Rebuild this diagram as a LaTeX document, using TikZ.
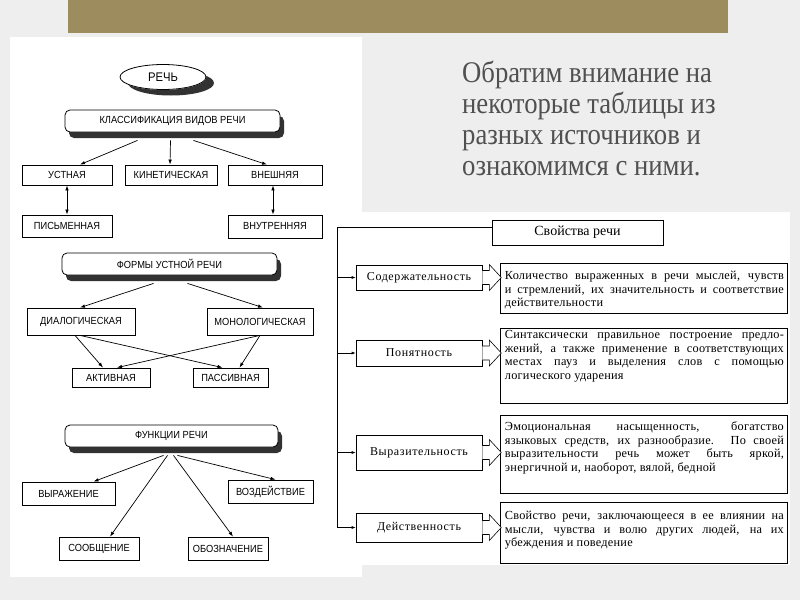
\documentclass[tikz,border=0pt]{standalone}
\usepackage{fontspec}
\setmainfont{Liberation Serif}
\newfontfamily\sansf[FakeStretch=0.9]{Liberation Sans}
\newfontfamily\descf[LetterSpace=2]{Liberation Serif}
\newfontfamily\rowf[LetterSpace=5]{Liberation Serif}
\newfontfamily\headf[FakeStretch=0.89]{Liberation Serif}
\usetikzlibrary{arrows.meta,calc,shapes.geometric,shadows}
\definecolor{bgc}{RGB}{238,238,238}
\definecolor{bandc}{RGB}{157,141,94}
\definecolor{headc}{RGB}{80,80,80}
\definecolor{shc}{RGB}{50,50,50}
\newcommand\blkarr[1]{%
  \draw[line width=0.6pt,fill=white] ($(#1.east)+(0,-7)$) -- ++(7,0) -- ++(0,-6) -- ($(#1.east)+(19,0)$) -- ($(#1.east)+(7,13)$) -- ++(0,-6) -- ($(#1.east)+(0,7)$);}
\begin{document}
\begin{tikzpicture}[x=1pt,y=-1pt,
  lbox/.style={draw,line width=0.8pt,fill=white,inner sep=0pt,font=\sansf\fontsize{10.3}{11}\selectfont},
  rbox/.style={lbox,rounded corners=5pt,minimum width=215pt,minimum height=22pt,
     drop shadow={shadow xshift=4pt,shadow yshift=-6pt,fill=shc,opacity=1}},
  arr/.style={-{Latex[length=5pt,width=3.5pt]},line width=0.7pt},
  darr/.style={{Latex[length=5pt,width=3.5pt]}-{Latex[length=5pt,width=3.5pt]},line width=0.7pt},
  rowbox/.style={draw,line width=0.6pt,fill=white,minimum width=126pt,inner sep=0pt,font=\rowf\fontsize{12}{13}\selectfont},
  descbox/.style={draw,line width=0.6pt,fill=white,minimum width=287pt,inner sep=0pt},
  desctext/.style={anchor=north west,inner sep=0pt,text width=279pt,align=justify,font=\descf\fontsize{12.3}{13.5}\selectfont},
  bus/.style={line width=0.6pt},
  busarr/.style={-{Latex[length=4pt,width=3pt]},line width=0.6pt},
  headline/.style={anchor=base west,inner sep=0pt,text=headc,font=\headf\fontsize{30}{31}\selectfont}]
\useasboundingbox (0,0) rectangle (800,600);
\fill[bgc] (0,0) rectangle (800,600);
\fill[bandc] (68,0) rectangle (728,33);
\fill[white] (10,37) rectangle (362,577);
\fill[white] (335,212) rectangle (790,565);

% heading text
\node[headline] (h1) at (462,82) {Обратим внимание на};
\node[headline] (h2) at (462,113) {некоторые таблицы из};
\node[headline] (h3) at (462,144) {разных источников и};
\node[headline] (h4) at (462,175) {ознакомимся с ними.};

% ---------- left diagram ----------
\node[lbox,ellipse,minimum width=86pt,minimum height=25pt,font=\sansf\fontsize{12.5}{13}\selectfont] (rech) at (163,77) {РЕЧЬ};
\begin{scope}[even odd rule]
  \clip (0,0) rectangle (800,600) (rech.center) ellipse [x radius=43.4pt, y radius=12.9pt];
  \fill[shc] ($(rech.center)+(8,6)$) ellipse [x radius=43pt, y radius=12.5pt];
\end{scope}
\node[rbox] (cls) at (172.5,121) {КЛАССИФИКАЦИЯ ВИДОВ РЕЧИ};
\node[lbox,minimum width=90pt,minimum height=20pt] (ust) at (67,175) {УСТНАЯ};
\node[lbox,minimum width=92pt,minimum height=20pt] (kin) at (171,175) {КИНЕТИЧЕСКАЯ};
\node[lbox,minimum width=94pt,minimum height=20pt] (vne) at (275,175) {ВНЕШНЯЯ};
\node[lbox,minimum width=90pt,minimum height=22pt] (pis) at (67,226) {ПИСЬМЕННАЯ};
\node[lbox,minimum width=94pt,minimum height=23pt] (vnu) at (275,226.5) {ВНУТРЕННЯЯ};

\draw[arr] ($(cls.south)+(-35,8)$) -- ($(ust.north)+(13,0)$);
\draw[arr] ($(cls.south)+(-2,8)$) -- ($(kin.north)+(-1,0)$);
\draw[arr] ($(cls.south)+(21,8)$) -- ($(vne.north)+(-8,0)$);
\draw[darr] (ust.south) -- (pis.north);
\draw[darr] ($(vne.south)+(-2,0)$) -- ($(vnu.north)+(-2,0)$);

\node[rbox] (form) at (169.5,264) {ФОРМЫ УСТНОЙ РЕЧИ};
\node[lbox,minimum width=108pt,minimum height=27pt] (dia) at (81,321.5) {ДИАЛОГИЧЕСКАЯ};
\node[lbox,minimum width=106pt,minimum height=27pt] (mono) at (260,321.5) {МОНОЛОГИЧЕСКАЯ};
\node[lbox,minimum width=78pt,minimum height=19pt] (akt) at (111,377.5) {АКТИВНАЯ};
\node[lbox,minimum width=75pt,minimum height=19pt] (pas) at (230.5,377.5) {ПАССИВНАЯ};

\draw[arr] ($(form.south)+(-16,8)$) -- ($(dia.north)+(-1,0)$);
\draw[arr] ($(form.south)+(18,8)$) -- ($(mono.north)+(3,0)$);
\draw[arr] ($(dia.south)+(-6,0)$) -- ($(akt.north)+(-8,0)$);
\draw[arr] ($(dia.south)+(-1,0)$) -- ($(pas.north)+(-8,0)$);
\draw[arr] ($(mono.south)+(0,0)$) -- ($(akt.north)+(6,0)$);
\draw[arr] ($(mono.south)+(0,0)$) -- ($(pas.north)+(9,0)$);

\node[rbox,minimum width=213pt] (funk) at (171.5,436) {ФУНКЦИИ РЕЧИ};
\node[lbox,minimum width=93pt,minimum height=23pt] (vyr) at (68.5,493.5) {ВЫРАЖЕНИЕ};
\node[lbox,minimum width=85pt,minimum height=23pt] (voz) at (270.5,491.5) {ВОЗДЕЙСТВИЕ};
\node[lbox,minimum width=80pt,minimum height=23pt] (soob) at (99,548.5) {СООБЩЕНИЕ};
\node[lbox,minimum width=80pt,minimum height=23pt] (obo) at (228,548.5) {ОБОЗНАЧЕНИЕ};

\draw[arr] ($(funk.south)+(-8,8)$) -- ($(vyr.north)+(25,0)$);
\draw[arr] ($(funk.south)+(6,8)$) -- ($(voz.north)+(5,0)$);
\draw[arr] ($(funk.south)+(-4,8)$) -- ($(soob.north)+(11,0)$);
\draw[arr] ($(funk.south)+(2,8)$) -- ($(obo.north)+(5,0)$);

% ---------- right table ----------
\node[draw,line width=0.6pt,fill=white,minimum width=171pt,minimum height=25pt,inner sep=0pt,
  font=\fontsize{14}{15}\selectfont] (sv) at (577.5,232.5) {Свойства речи};
\node[rowbox,minimum height=25pt] (r1) at (419,277.5) {Содержательность};
\node[rowbox,minimum height=26pt] (r2) at (419,353) {Понятность};
\node[rowbox,minimum height=35pt] (r3) at (419,452.5) {Выразительность};
\node[rowbox,minimum height=29pt] (r4) at (419,527.5) {Действенность};

\coordinate (bt) at ($(sv.west)+(-154,-5)$);
\coordinate (bb) at (bt |- r4.west);
\draw[bus] ($(sv.west)+(0,-5)$) -- (bt) -- (bb);
\draw[busarr] (bt |- r1.west) -- (r1.west);
\draw[busarr] (bt |- r2.west) -- (r2.west);
\draw[busarr] (bt |- r3.west) -- (r3.west);
\draw[busarr] (bb) -- (r4.west);

\node[descbox,minimum height=50pt] (d1) at (643.5,288) {};
\node[descbox,minimum height=75pt] (d2) at (643.5,365.5) {};
\node[descbox,minimum height=78pt] (d3) at (643.5,454) {};
\node[descbox,minimum height=61pt] (d4) at (643.5,532.5) {};

\blkarr{r1}
\blkarr{r2}
\blkarr{r3}
\blkarr{r4}

\node[desctext] (t1) at ($(d1.north west)+(5,8.2)$) {Количество выраженных в речи мыслей, чувств\linebreak и стремлений, их значительность и соответствие\linebreak действительности};
\node[desctext] (t2) at ($(d2.north west)+(5,2.9)$) {Синтаксически правильное построение предло-\linebreak жений, а также применение в соответствующих\linebreak местах пауз и выделения слов с помощью\linebreak логического ударения};
\node[desctext] (t3) at ($(d3.north west)+(5,7.2)$) {Эмоциональная насыщенность, богатство\linebreak языковых средств, их разнообразие. По своей\linebreak выразительности речь может быть яркой,\linebreak энергичной и, наоборот, вялой, бедной};
\node[desctext] (t4) at ($(d4.north west)+(5,9.2)$) {Свойство речи, заключающееся в ее влиянии на\linebreak мысли, чувства и волю других людей, на их\linebreak убеждения и поведение};
\end{tikzpicture}
\end{document}
